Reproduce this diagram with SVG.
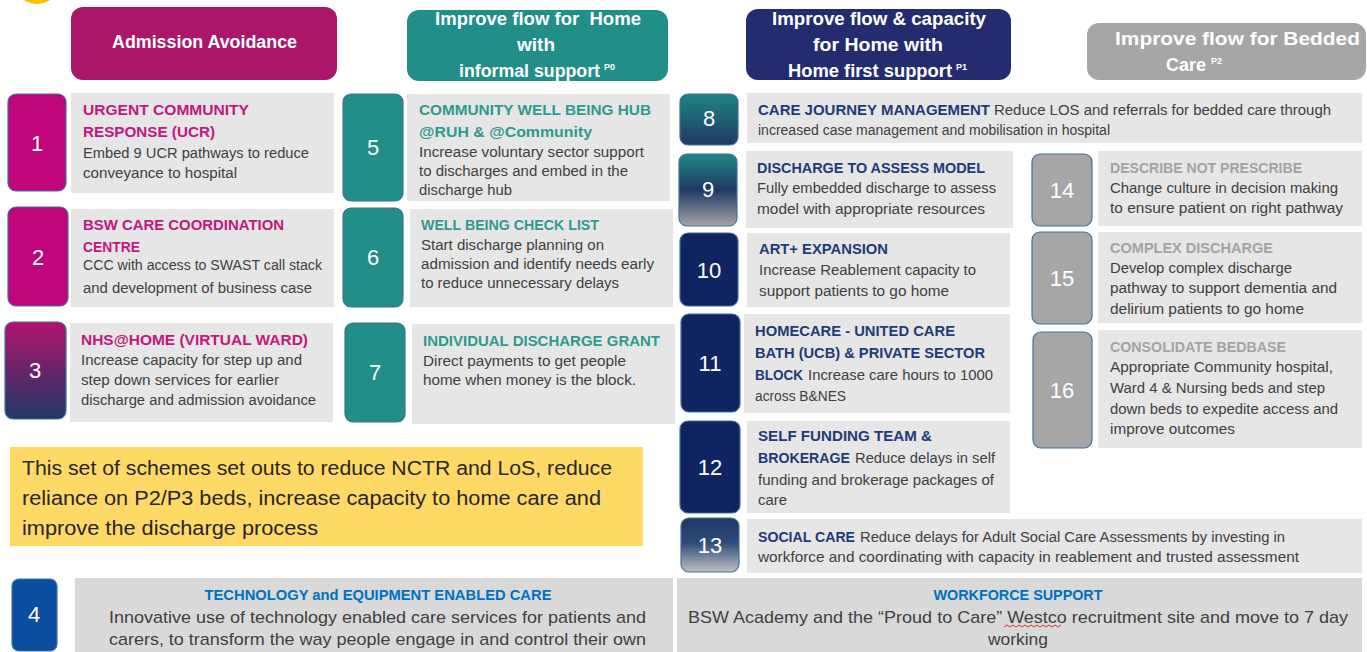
<svg xmlns="http://www.w3.org/2000/svg" width="1367" height="652" viewBox="0 0 1367 652">
<style>
.nb{stroke:#41719C;stroke-width:1.2}
.gb{fill:#E6E6E6}
.bb{fill:#D9D9D9}
.n{font-family:"Liberation Sans",Arial,sans-serif;font-size:22px;fill:#fff;text-anchor:middle}
.tt{font-family:"Liberation Sans",Arial,sans-serif;font-size:15px;font-weight:bold}
.bd{font-family:"Liberation Sans",Arial,sans-serif;font-size:14px;fill:#404040}
.c1{fill:#C2177F}.c2{fill:#2E9A8F}.c3{fill:#1F3A78}.c4{fill:#A3A3A3}
.h{font-family:"Liberation Sans",Arial,sans-serif;font-size:18px;font-weight:bold;fill:#fff}
.sup{font-family:"Liberation Sans",Arial,sans-serif;font-size:9px;font-weight:bold;fill:#fff}
.note{font-family:"Liberation Sans",Arial,sans-serif;font-size:20px;fill:#262626}
.bt{font-family:"Liberation Sans",Arial,sans-serif;font-size:15px;font-weight:bold;fill:#0070C0;text-anchor:middle}
.bx{font-family:"Liberation Sans",Arial,sans-serif;font-size:17px;fill:#404040}
</style>
<defs>
<linearGradient id="g3" x1="0" y1="0" x2="0" y2="1"><stop offset="0" stop-color="#B0126F"/><stop offset="1" stop-color="#1F3864"/></linearGradient>
<linearGradient id="g8" x1="0" y1="0" x2="0" y2="1"><stop offset="0" stop-color="#1E8583"/><stop offset="1" stop-color="#1F3864"/></linearGradient>
<linearGradient id="g9" x1="0" y1="0" x2="0" y2="1"><stop offset="0" stop-color="#1E8A84"/><stop offset="0.5" stop-color="#1F3864"/><stop offset="1" stop-color="#A6A6A6"/></linearGradient>
<linearGradient id="g13" x1="0" y1="0" x2="0" y2="1"><stop offset="0" stop-color="#1F3864"/><stop offset="0.45" stop-color="#2E4A78"/><stop offset="1" stop-color="#C0C0C0"/></linearGradient>
</defs>
<rect width="1367" height="652" fill="#fff"/>
<circle cx="37" cy="-19" r="23" fill="#FFC000"/>

<g id="header-admission">
<rect x="71" y="7" width="266" height="73" rx="12" fill="#AA1769"/>
<text class="h" x="112" y="48" textLength="185" lengthAdjust="spacingAndGlyphs">Admission Avoidance</text>
</g>
<g id="header-informal">
<rect x="407" y="10" width="261" height="71" rx="12" fill="#218E87"/>
<text class="h" x="435" y="25" textLength="206" lengthAdjust="spacingAndGlyphs" xml:space="preserve">Improve flow for  Home</text>
<text class="h" x="517" y="51" textLength="38" lengthAdjust="spacingAndGlyphs">with</text>
<text class="h" x="459" y="77" textLength="141" lengthAdjust="spacingAndGlyphs">informal support</text>
<text class="sup" x="604" y="70">P0</text>
</g>
<g id="header-homefirst">
<rect x="746" y="9" width="265" height="71" rx="12" fill="#232C6E"/>
<text class="h" x="772" y="25" textLength="214" lengthAdjust="spacingAndGlyphs">Improve flow &amp; capacity</text>
<text class="h" x="813" y="51" textLength="130" lengthAdjust="spacingAndGlyphs">for Home with</text>
<text class="h" x="788" y="77" textLength="164" lengthAdjust="spacingAndGlyphs">Home first support</text>
<text class="sup" x="956" y="70">P1</text>
</g>
<g id="header-bedded">
<rect x="1087" y="23" width="279" height="57" rx="12" fill="#A6A6A6"/>
<text class="h" x="1115" y="45" textLength="245" lengthAdjust="spacingAndGlyphs" fill="#F2F2F2">Improve flow for Bedded</text>
<text class="h" x="1166" y="71" textLength="40" lengthAdjust="spacingAndGlyphs">Care</text>
<text class="sup" x="1211" y="64">P2</text>
</g>

<g id="scheme-1">
<rect class="nb" x="8" y="94" width="58" height="97" rx="8" fill="#C0047B"/>
<text class="n" x="37" y="151">1</text>
<rect class="gb" x="71" y="93" width="263" height="100"/>
<text class="tt c1" x="83" y="115" textLength="166" lengthAdjust="spacingAndGlyphs">URGENT COMMUNITY</text>
<text class="tt c1" x="83" y="137" textLength="132" lengthAdjust="spacingAndGlyphs">RESPONSE (UCR)</text>
<text class="bd" x="83" y="158" textLength="226" lengthAdjust="spacingAndGlyphs">Embed 9 UCR pathways to reduce</text>
<text class="bd" x="83" y="178" textLength="154" lengthAdjust="spacingAndGlyphs">conveyance to hospital</text>
</g>
<g id="scheme-2">
<rect class="nb" x="8" y="207" width="60" height="99" rx="8" fill="#C0047B"/>
<text class="n" x="38" y="265">2</text>
<rect class="gb" x="71" y="209" width="263" height="98"/>
<text class="tt c1" x="83" y="230" textLength="201" lengthAdjust="spacingAndGlyphs">BSW CARE COORDINATION</text>
<text class="tt c1" x="83" y="252" textLength="57" lengthAdjust="spacingAndGlyphs">CENTRE</text>
<text class="bd" x="83" y="270" textLength="239" lengthAdjust="spacingAndGlyphs">CCC with access to SWAST call stack</text>
<text class="bd" x="83" y="293" textLength="229" lengthAdjust="spacingAndGlyphs">and development of business case</text>
</g>
<g id="scheme-3">
<rect class="nb" x="5" y="322" width="61" height="97" rx="8" fill="url(#g3)"/>
<text class="n" x="35" y="378">3</text>
<rect class="gb" x="70" y="323" width="263" height="99"/>
<text class="tt c1" x="81" y="345" textLength="227" lengthAdjust="spacingAndGlyphs">NHS@HOME (VIRTUAL WARD)</text>
<text class="bd" x="81" y="365" textLength="221" lengthAdjust="spacingAndGlyphs">Increase capacity for step up and</text>
<text class="bd" x="81" y="385" textLength="198" lengthAdjust="spacingAndGlyphs">step down services for earlier</text>
<text class="bd" x="81" y="405" textLength="235" lengthAdjust="spacingAndGlyphs">discharge and admission avoidance</text>
</g>

<g id="scheme-5">
<rect class="nb" x="343" y="94" width="60" height="107" rx="8" fill="#218E87"/>
<text class="n" x="373" y="155">5</text>
<rect class="gb" x="407" y="94" width="263" height="107"/>
<text class="tt c2" x="419" y="115" textLength="232" lengthAdjust="spacingAndGlyphs">COMMUNITY WELL BEING HUB</text>
<text class="tt c2" x="419" y="137" textLength="173" lengthAdjust="spacingAndGlyphs">@RUH &amp; @Community</text>
<text class="bd" x="419" y="157" textLength="225" lengthAdjust="spacingAndGlyphs">Increase voluntary sector support</text>
<text class="bd" x="419" y="176" textLength="209" lengthAdjust="spacingAndGlyphs">to discharges and embed in the</text>
<text class="bd" x="419" y="195" textLength="93" lengthAdjust="spacingAndGlyphs">discharge hub</text>
</g>
<g id="scheme-6">
<rect class="nb" x="343" y="208" width="60" height="99" rx="8" fill="#218E87"/>
<text class="n" x="373" y="265">6</text>
<rect class="gb" x="410" y="209" width="263" height="98"/>
<text class="tt c2" x="421" y="230" textLength="178" lengthAdjust="spacingAndGlyphs">WELL BEING CHECK LIST</text>
<text class="bd" x="421" y="250" textLength="183" lengthAdjust="spacingAndGlyphs">Start discharge planning on</text>
<text class="bd" x="421" y="269" textLength="233" lengthAdjust="spacingAndGlyphs">admission and identify needs early</text>
<text class="bd" x="421" y="288" textLength="198" lengthAdjust="spacingAndGlyphs">to reduce unnecessary delays</text>
</g>
<g id="scheme-7">
<rect class="nb" x="345" y="323" width="60" height="99" rx="8" fill="#218E87"/>
<text class="n" x="375" y="380">7</text>
<rect class="gb" x="412" y="324" width="263" height="100"/>
<text class="tt c2" x="423" y="346" textLength="237" lengthAdjust="spacingAndGlyphs">INDIVIDUAL DISCHARGE GRANT</text>
<text class="bd" x="423" y="366" textLength="203" lengthAdjust="spacingAndGlyphs">Direct payments to get people</text>
<text class="bd" x="423" y="385" textLength="213" lengthAdjust="spacingAndGlyphs">home when money is the block.</text>
</g>

<g id="scheme-8">
<rect class="nb" x="680" y="94" width="58" height="51" rx="8" fill="url(#g8)"/>
<text class="n" x="709" y="126">8</text>
<rect class="gb" x="747" y="93" width="615" height="50"/>
<text class="tt c3" x="758" y="115" textLength="232" lengthAdjust="spacingAndGlyphs">CARE JOURNEY MANAGEMENT</text>
<text class="bd" x="994" y="115" textLength="337" lengthAdjust="spacingAndGlyphs">Reduce LOS and referrals for bedded care through</text>
<text class="bd" x="758" y="135" textLength="352" lengthAdjust="spacingAndGlyphs">increased case management and mobilisation in hospital</text>
</g>
<g id="scheme-9">
<rect class="nb" x="679" y="154" width="58" height="72" rx="8" fill="url(#g9)"/>
<text class="n" x="708" y="197">9</text>
<rect class="gb" x="746" y="151" width="267" height="77"/>
<text class="tt c3" x="757" y="173" textLength="228" lengthAdjust="spacingAndGlyphs">DISCHARGE TO ASSESS MODEL</text>
<text class="bd" x="757" y="193" textLength="239" lengthAdjust="spacingAndGlyphs">Fully embedded discharge to assess</text>
<text class="bd" x="757" y="214" textLength="228" lengthAdjust="spacingAndGlyphs">model with appropriate resources</text>
</g>
<g id="scheme-10">
<rect class="nb" x="680" y="233" width="58" height="73" rx="8" fill="#0F2461"/>
<text class="n" x="709" y="278">10</text>
<rect class="gb" x="747" y="233" width="263" height="74"/>
<text class="tt c3" x="759" y="254" textLength="129" lengthAdjust="spacingAndGlyphs">ART+ EXPANSION</text>
<text class="bd" x="759" y="275" textLength="217" lengthAdjust="spacingAndGlyphs">Increase Reablement capacity to</text>
<text class="bd" x="759" y="296" textLength="190" lengthAdjust="spacingAndGlyphs">support patients to go home</text>
</g>
<g id="scheme-11">
<rect class="nb" x="681" y="314" width="59" height="98" rx="8" fill="#0F2461"/>
<text class="n" x="710" y="371">11</text>
<rect class="gb" x="744" y="314" width="266" height="99"/>
<text class="tt c3" x="755" y="336" textLength="200" lengthAdjust="spacingAndGlyphs">HOMECARE - UNITED CARE</text>
<text class="tt c3" x="755" y="358" textLength="230" lengthAdjust="spacingAndGlyphs">BATH (UCB) &amp; PRIVATE SECTOR</text>
<text class="tt c3" x="755" y="380" textLength="48" lengthAdjust="spacingAndGlyphs">BLOCK</text>
<text class="bd" x="808" y="380" textLength="185" lengthAdjust="spacingAndGlyphs">Increase care hours to 1000</text>
<text class="bd" x="755" y="401" textLength="91" lengthAdjust="spacingAndGlyphs">across B&amp;NES</text>
</g>
<g id="scheme-12">
<rect class="nb" x="680" y="421" width="60" height="92" rx="8" fill="#0F2461"/>
<text class="n" x="710" y="475">12</text>
<rect class="gb" x="747" y="421" width="263" height="92"/>
<text class="tt c3" x="758" y="441" textLength="174" lengthAdjust="spacingAndGlyphs">SELF FUNDING TEAM &amp;</text>
<text class="tt c3" x="758" y="463" textLength="92" lengthAdjust="spacingAndGlyphs">BROKERAGE</text>
<text class="bd" x="855" y="463" textLength="140" lengthAdjust="spacingAndGlyphs">Reduce delays in self</text>
<text class="bd" x="758" y="485" textLength="236" lengthAdjust="spacingAndGlyphs">funding and brokerage packages of</text>
<text class="bd" x="758" y="505" textLength="29" lengthAdjust="spacingAndGlyphs">care</text>
</g>
<g id="scheme-13">
<rect class="nb" x="681" y="518" width="58" height="54" rx="8" fill="url(#g13)"/>
<text class="n" x="710" y="553">13</text>
<rect class="gb" x="747" y="519" width="615" height="54"/>
<text class="tt c3" x="758" y="542" textLength="97" lengthAdjust="spacingAndGlyphs">SOCIAL CARE</text>
<text class="bd" x="860" y="542" textLength="425" lengthAdjust="spacingAndGlyphs">Reduce delays for Adult Social Care Assessments by investing in</text>
<text class="bd" x="758" y="562" textLength="541" lengthAdjust="spacingAndGlyphs">workforce and coordinating with capacity in reablement and trusted assessment</text>
</g>

<g id="scheme-14">
<rect class="nb" x="1032" y="154" width="60" height="72" rx="8" fill="#A6A6A6"/>
<text class="n" x="1062" y="198">14</text>
<rect class="gb" x="1098" y="151" width="264" height="75"/>
<text class="tt c4" x="1110" y="173" textLength="192" lengthAdjust="spacingAndGlyphs">DESCRIBE NOT PRESCRIBE</text>
<text class="bd" x="1110" y="193" textLength="228" lengthAdjust="spacingAndGlyphs">Change culture in decision making</text>
<text class="bd" x="1110" y="213" textLength="233" lengthAdjust="spacingAndGlyphs">to ensure patient on right pathway</text>
</g>
<g id="scheme-15">
<rect class="nb" x="1032" y="232" width="60" height="92" rx="8" fill="#A6A6A6"/>
<text class="n" x="1062" y="286">15</text>
<rect class="gb" x="1098" y="232" width="264" height="91"/>
<text class="tt c4" x="1110" y="253" textLength="163" lengthAdjust="spacingAndGlyphs">COMPLEX DISCHARGE</text>
<text class="bd" x="1110" y="273" textLength="182" lengthAdjust="spacingAndGlyphs">Develop complex discharge</text>
<text class="bd" x="1110" y="293" textLength="227" lengthAdjust="spacingAndGlyphs">pathway to support dementia and</text>
<text class="bd" x="1110" y="314" textLength="194" lengthAdjust="spacingAndGlyphs">delirium patients to go home</text>
</g>
<g id="scheme-16">
<rect class="nb" x="1033" y="332" width="59" height="116" rx="8" fill="#A6A6A6"/>
<text class="n" x="1062" y="398">16</text>
<rect class="gb" x="1098" y="330" width="264" height="118"/>
<text class="tt c4" x="1110" y="352" textLength="176" lengthAdjust="spacingAndGlyphs">CONSOLIDATE BEDBASE</text>
<text class="bd" x="1110" y="372" textLength="223" lengthAdjust="spacingAndGlyphs">Appropriate Community hospital,</text>
<text class="bd" x="1110" y="393" textLength="215" lengthAdjust="spacingAndGlyphs">Ward 4 &amp; Nursing beds and step</text>
<text class="bd" x="1110" y="414" textLength="228" lengthAdjust="spacingAndGlyphs">down beds to expedite access and</text>
<text class="bd" x="1110" y="434" textLength="125" lengthAdjust="spacingAndGlyphs">improve outcomes</text>
</g>

<g id="summary-note">
<rect x="10" y="447" width="633" height="99" fill="#FFD966"/>
<text class="note" x="22" y="475" textLength="590" lengthAdjust="spacingAndGlyphs">This set of schemes set outs to reduce NCTR and LoS, reduce</text>
<text class="note" x="22" y="505" textLength="579" lengthAdjust="spacingAndGlyphs">reliance on P2/P3 beds, increase capacity to home care and</text>
<text class="note" x="22" y="535" textLength="296" lengthAdjust="spacingAndGlyphs">improve the discharge process</text>
</g>

<g id="scheme-4">
<rect class="nb" x="12" y="579" width="45" height="72" rx="7" fill="#0B4EA0"/>
<text class="n" x="34" y="622">4</text>
<rect class="bb" x="75" y="578" width="598" height="74"/>
<text class="bt" x="378" y="600" textLength="347" lengthAdjust="spacingAndGlyphs">TECHNOLOGY and EQUIPMENT ENABLED CARE</text>
<text class="bx" x="109" y="623" textLength="537" lengthAdjust="spacingAndGlyphs">Innovative use of technology enabled care services for patients and</text>
<text class="bx" x="109" y="645" textLength="537" lengthAdjust="spacingAndGlyphs">carers, to transform the way people engage in and control their own</text>
</g>
<g id="workforce">
<rect class="bb" x="677" y="578" width="685" height="74"/>
<text class="bt" x="1018" y="600" textLength="169" lengthAdjust="spacingAndGlyphs">WORKFORCE SUPPORT</text>
<text class="bx" x="688" y="623" textLength="660" lengthAdjust="spacingAndGlyphs">BSW Academy and the “Proud to Care” Westco recruitment site and move to 7 day</text>
<text class="bx" x="988" y="645" textLength="60" lengthAdjust="spacingAndGlyphs">working</text>
<path d="M1004 627 l3 -2 l3 2 l3 -2 l3 2 l3 -2 l3 2 l3 -2 l3 2 l3 -2 l3 2 l3 -2 l3 2 l3 -2 l3 2 l3 -2 l3 2 l3 -2 l3 2 l3 -2" fill="none" stroke="#E03030" stroke-width="1"/>
</g>
<g id="connectors"></g>
</svg>
